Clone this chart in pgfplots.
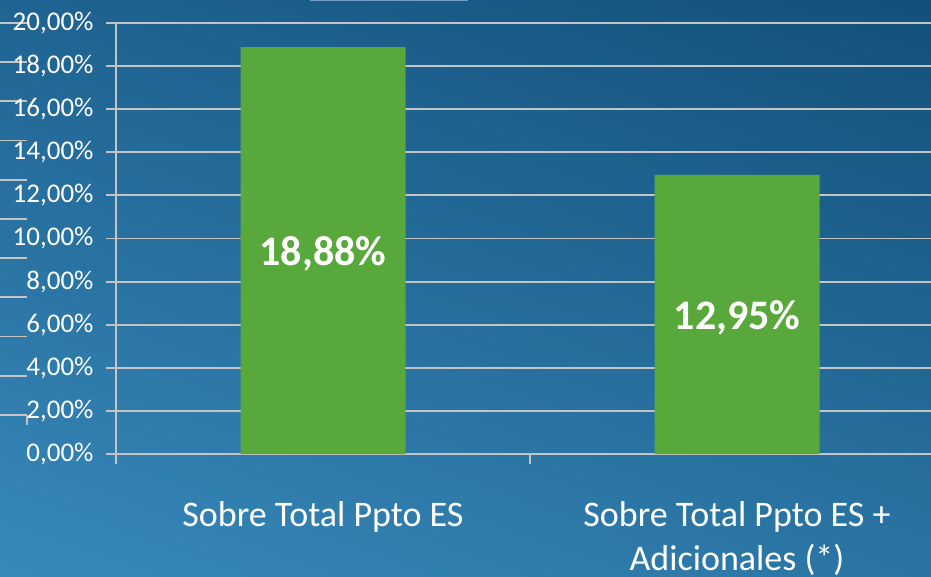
\documentclass[border=0pt]{standalone}
\usepackage{pgfplots}
\pgfplotsset{compat=1.18}
\usetikzlibrary{shadings}
\usepackage{fontspec}
\setmainfont{Carlito}
\definecolor{barg}{RGB}{88,168,60}
\definecolor{gridc}{RGB}{196,196,196}
\definecolor{bgul}{RGB}{31,100,146}
\definecolor{bgur}{RGB}{18,80,122}
\definecolor{bgll}{RGB}{56,137,187}
\definecolor{bglr}{RGB}{42,116,163}
\definecolor{topl}{RGB}{110,160,200}
\begin{document}
\begin{tikzpicture}[x=1pt,y=1pt]
\useasboundingbox (0,0) rectangle (931,576);
\clip (0,0) rectangle (931,576);
\shade[upper left=bgul, upper right=bgur, lower left=bgll, lower right=bglr] (0,0) rectangle (931,576);
\foreach \k in {0,...,10} \draw[gridc, line width=1.8pt] (0,{576-23-39.2*\k}) -- (27,{576-23-39.2*\k});
\draw[gridc, line width=1.8pt] (27,{576-415}) -- (27,{576-425});
\draw[topl, line width=2pt] (310,576) -- (468,576);
\begin{axis}[
  at={(116pt,122pt)}, anchor=south west,
  scale only axis, width=828pt, height=431pt,
  xmin=-0.5, xmax=1.5, ymin=0, ymax=20,
  axis x line=bottom, axis y line=left,
  axis line style={gridc, line width=1.8pt, -},
  ytick={0,2,...,20}, ymajorgrids, grid style={gridc, line width=1.8pt},
  tick align=outside, major tick length=10pt,
  tick style={gridc, line width=1.8pt},
  yticklabel={\pgfmathprintnumber[assume math mode=true,fixed,fixed zerofill,precision=2,use comma]{\tick}\%},
  yticklabel style={font=\fontsize{27}{32}\selectfont, text=white, anchor=east, xshift=-9pt},
  xtick={-0.5,0.5,1.5}, xticklabels={},
  extra x ticks={0,1},
  extra x tick labels={Sobre Total Ppto ES, {Sobre Total Ppto ES +\\Adicionales (*)}},
  extra x tick style={tick style={draw=none}, grid=none,
    xticklabel style={font=\fontsize{36}{44}\selectfont, text=white, align=center, anchor=north, yshift=-34pt}},
  clip=false,
]
\addplot[ybar, bar width=165pt, fill=barg, draw=none] coordinates {(0,18.88) (1,12.95)};
\addplot[draw=none, mark=none, nodes near coords, point meta=explicit symbolic,
  every node near coord/.append style={anchor=center, yshift=-3pt, font=\bfseries\fontsize{42}{50}\selectfont, text=white}]
  coordinates {(0,9.44)[18,88\%] (1,6.475)[12,95\%]};
\end{axis}
\end{tikzpicture}
\end{document}
